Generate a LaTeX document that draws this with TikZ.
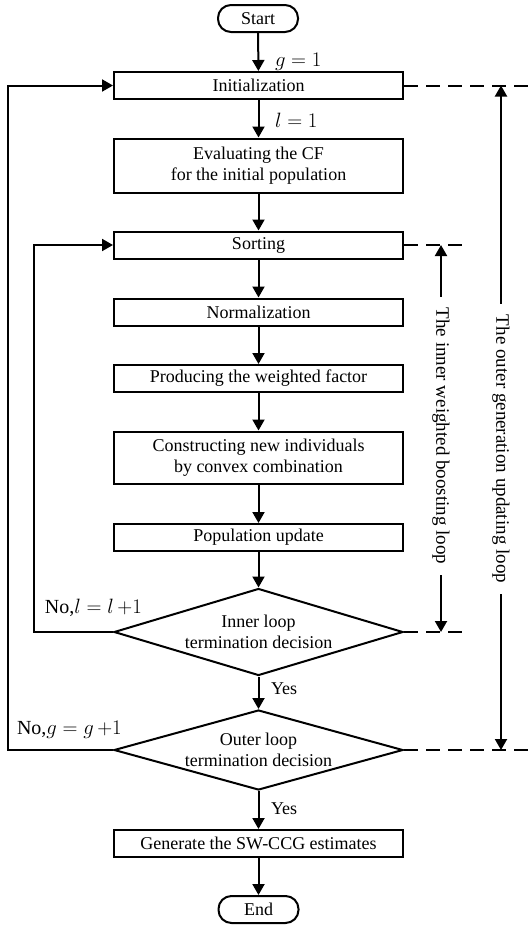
\documentclass[tikz,border=0pt]{standalone}
\usepackage{fontspec}
\setmainfont{Liberation Serif}
\usetikzlibrary{shapes.geometric,arrows.meta}
\begin{document}
\begin{tikzpicture}[x=1pt,y=-1pt,
  font=\fontsize{18}{21}\selectfont,
  line width=2pt,
  >={Triangle[length=11pt,width=12pt]},
  proc/.style={draw, rectangle, minimum width=289pt, minimum height=27pt, inner sep=0pt, align=center},
  term/.style={draw, rectangle, rounded corners=13pt, minimum width=80pt, minimum height=27pt, inner sep=0pt},
  dec/.style={draw, diamond, minimum width=289pt, inner sep=0pt, shape aspect=3.3, align=center},
  flow/.style={->},
  dashline/.style={dash pattern=on 14pt off 8pt},
  lbl/.style={anchor=west, inner sep=0pt},
  mlbl/.style={anchor=west, inner sep=0pt, font=\fontsize{20}{24}\selectfont},
  looptext/.style={rotate=-90, inner xsep=10pt, inner ysep=0pt, font=\fontsize{19}{22}\selectfont}
]
\useasboundingbox (0,0) rectangle (528,927);

% main nodes
\node[term] (start) at (258,18.5) {Start};
\node[proc] (init) at (258.5,85.5) {Initialization};
\node[proc, minimum height=54pt] (eval) at (258.5,165.5) {Evaluating the CF\\for the initial population};
\node[proc] (sort) at (258.5,245) {Sorting};
\node[proc] (norm) at (258.5,312) {Normalization};
\node[proc] (prod) at (258.5,378.5) {Producing the weighted factor};
\node[proc, minimum height=52pt] (cons) at (258.5,457.5) {Constructing new individuals\\by convex combination};
\node[proc] (pop) at (258.5,537.5) {Population update};
\node[dec, minimum height=87pt] (inner) at (258.5,632) {Inner loop\\termination decision};
\node[dec, minimum height=80pt] (outer) at (258.5,750) {Outer loop\\termination decision};
\node[proc] (gen) at (258.5,843.5) {Generate the SW-CCG estimates};
\node[term] (end) at (258.5,909.5) {End};

% main flow
\draw[flow] (start) -- (init);
\draw[flow] (init) -- (eval);
\draw[flow] (eval) -- (sort);
\draw[flow] (sort) -- (norm);
\draw[flow] (norm) -- (prod);
\draw[flow] (prod) -- (cons);
\draw[flow] (cons) -- (pop);
\draw[flow] (pop) -- (inner);
\draw[flow] (inner) -- (outer);
\draw[flow] (outer) -- (gen);
\draw[flow] (gen) -- (end);

% labels on flow
\node[mlbl] (g1) at (274,62) {$g=1$};
\node[mlbl] (l1) at (274,120) {$l=1$};
\node[lbl] (yes1) at (270,689) {Yes};
\node[lbl] (yes2) at (270,809) {Yes};
\node[mlbl] (nol) at (44,608) {No,$l=l\,{+}1$};
\node[mlbl] (nog) at (16,730) {No,$g=g\,{+}1$};

% feedback loops
\coordinate (il) at (34,632);
\coordinate (ol) at (8,750);
\draw[flow] (inner.west) -- (il) |- (sort.west);
\draw[flow] (outer.west) -- (ol) |- (init.west);

% dashed extension lines
\coordinate (oe1) at (528,85.5);
\coordinate (ie1) at (470,245);
\coordinate (ie2) at (470,632);
\coordinate (oe2) at (528,750);
\draw[dashline] (init.east) -- (oe1);
\draw[dashline] (sort.east) -- (ie1);
\draw[dashline] (inner.east) -- (ie2);
\draw[dashline] (outer.east) -- (oe2);

% loop range arrows
\node[looptext] (itxt) at (441,436) {The inner weighted boosting loop};
\node[looptext] (otxt) at (501,449) {The outer generation updating loop};
\coordinate (iu) at (441,245);
\coordinate (idn) at (441,632);
\coordinate (ou) at (501,85.5);
\coordinate (odn) at (501,750);
\draw[flow] (itxt.west) -- (iu);
\draw[flow] (itxt.east) -- (idn);
\draw[flow] (otxt.west) -- (ou);
\draw[flow] (otxt.east) -- (odn);
\end{tikzpicture}
\end{document}
